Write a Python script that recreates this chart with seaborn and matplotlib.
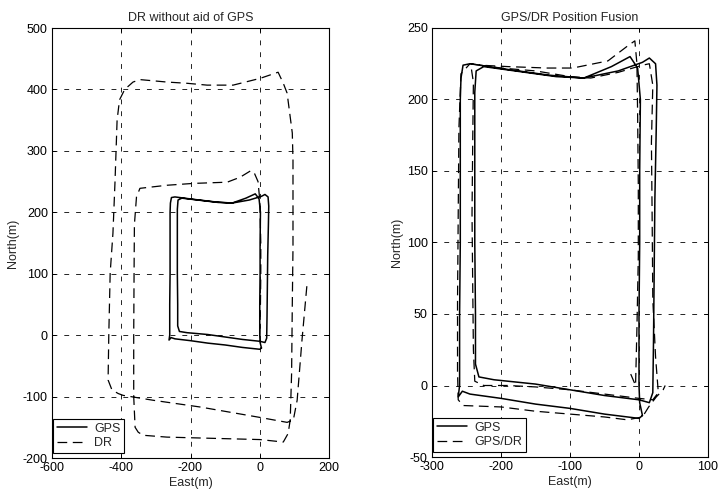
import matplotlib
matplotlib.use("Agg")
import matplotlib.pyplot as plt
import seaborn as sns

# === 1. Data (metres) ===
# GPS track, two laps (same in both panels)
gps_east = [5, 1, 0, 0, 1, 1, 2, -2, -13, -40, -80, -120, -180, -225, -236, -238, -238,
            -238, -237, -237, -232, -210, -150, -100, -50, 0, 15, 20, 21, 22, 23, 25, 26,
            24, 15, 5, -30, -80, -130, -190, -245, -255, -258, -259, -259, -260, -260,
            -262, -256, -245, -200, -150, -100, -50, 0, 5]
gps_north = [-21, -12, 0, 50, 100, 150, 200, 222, 230, 223, 215, 216, 220, 223, 220, 205,
             150, 100, 50, 15, 6, 4, 1, -3, -7, -10, -12, -5, 30, 80, 130, 180, 210,
             225, 229, 226, 220, 215, 217, 221, 225, 224, 215, 200, 100, 50, 0,
             -8, -4, -6, -9, -13, -16, -20, -23, -21]

# dead reckoning alone (left panel)
dr_east = [0, 2, 3, 3, 0, -5, -15, -25, -57, -94, -192, -268, -346, -356, -362, -363,
           -364, -364, -360, -351, -337, -268, -135, 1, 68, 82, 88, 92, 94, 96, 96, 94,
           79, 68, 53, 1, -77, -152, -210, -268, -346, -366, -390, -405, -412, -418,
           -424, -432, -436, -438, -427, -409, -395, -308, -172, 1, 79, 97, 108, 122, 137]
dr_north = [0, 50, 100, 150, 220, 250, 263, 268, 257, 249, 247, 244, 239, 225, 180, 100,
            0, -100, -150, -158, -163, -166, -168, -170, -174, -160, -138, -62, 50, 143,
            285, 329, 394, 410, 428, 418, 407, 407, 410, 412, 416, 412, 400, 383, 350,
            250, 166, 101, 0, -73, -89, -95, -98, -106, -117, -134, -142, -138, -106,
            -8, 86]

# GPS/DR fusion (right panel)
fus_east = [-12, -5, -3, -1, -1, -2, -3, -6, -15, -45, -96, -133, -190, -230, -244, -240,
            -241, -242, -241, -240, -238, -225, -190, -150, -100, -50, 0, 20, 28, 24, 20,
            19, 18, 20, 15, 5, -30, -70, -100, -150, -200, -245, -258, -261, -262, -263,
            -263, -262, -255, -200, -150, -100, -50, -17, 5, 14, 25, 35, 38]
fus_north = [8, 0, 40, 90, 140, 190, 225, 241, 238, 227, 222, 222, 223, 224, 225, 212,
             170, 120, 70, 25, 3, 0, 0, -1, -3, -6, -9, -10, -5, 20, 60, 120, 170, 210,
             225, 224, 219, 215, 216, 220, 222, 225, 218, 180, 120, 60, 10, -10, -14,
             -15, -18, -20, -22, -24, -22, -15, -8, -3, 0]

left_xticks = [-600, -400, -200, 0, 200]
left_yticks = [-200, -100, 0, 100, 200, 300, 400, 500]
right_xticks = [-300, -200, -100, 0, 100]
right_yticks = [-50, 0, 50, 100, 150, 200, 250]

# === 2. Style ===
sns.set_theme(style="ticks")
plt.rcParams["font.family"] = ["Liberation Sans", "DejaVu Sans"]
plt.rcParams["font.size"] = 9
plt.rcParams["lines.scale_dashes"] = False
plt.rcParams["axes.unicode_minus"] = False

GRID_DASH = (0, (3.5, 5))
DR_DASH = (0, (7, 4))

fig = plt.figure(figsize=(7.21, 4.94), dpi=100)
ax1 = fig.add_axes([52 / 721, 36 / 494, 277 / 721, 430 / 494])
ax2 = fig.add_axes([432 / 721, 37 / 494, 276 / 721, 429 / 494])


def draw_panel(ax, est_e, est_n, est_label, title, xticks, yticks):
    sns.lineplot(x=gps_east, y=gps_north, sort=False, estimator=None,
                 color="black", linewidth=1.1, ax=ax)
    sns.lineplot(x=est_e, y=est_n, sort=False, estimator=None,
                 color="black", linewidth=0.9, ax=ax)
    ax.lines[1].set_linestyle(DR_DASH)

    ax.set_xlim(xticks[0], xticks[-1])
    ax.set_ylim(yticks[0], yticks[-1])
    ax.set_xticks(xticks)
    ax.set_yticks(yticks)
    ax.grid(True, color="black", linestyle=GRID_DASH, linewidth=0.6)
    ax.tick_params(direction="in", top=True, right=True, length=3,
                   width=0.7, pad=3, labelsize=9, colors="black")
    for sp in ax.spines.values():
        sp.set_visible(True)
        sp.set_color("black")
        sp.set_linewidth(0.8)

    ax.set_title(title, fontsize=9, pad=5)
    ax.set_xlabel("East(m)", fontsize=9, labelpad=2)
    ax.set_ylabel("North(m)", fontsize=9, labelpad=3)

    leg = ax.legend(ax.lines[:2], ["GPS", est_label], loc="lower left",
                    bbox_to_anchor=(0.003, 0.012), borderaxespad=0,
                    fancybox=False, framealpha=1, edgecolor="black",
                    fontsize=9, handlelength=2.4, handletextpad=0.6,
                    labelspacing=0.2, borderpad=0.3)
    leg.get_frame().set_linewidth(0.8)


draw_panel(ax1, dr_east, dr_north, "DR", "DR without aid of GPS",
           left_xticks, left_yticks)
draw_panel(ax2, fus_east, fus_north, "GPS/DR", "GPS/DR Position Fusion",
           right_xticks, right_yticks)

fig.savefig("out.png", dpi=100, facecolor="white")
